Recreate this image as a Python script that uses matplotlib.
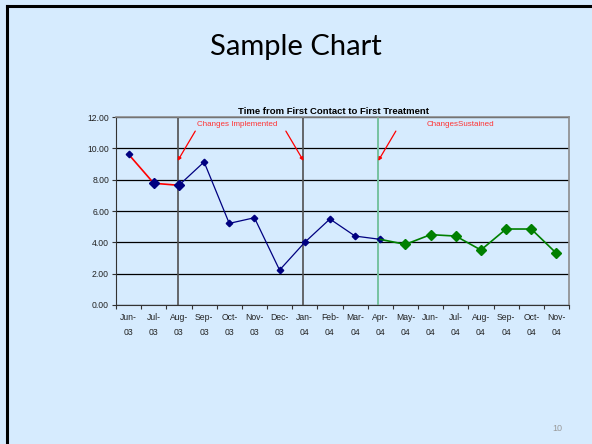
import matplotlib
matplotlib.use("Agg")
import matplotlib.pyplot as plt
import numpy as np

months = ["Jun-\n03", "Jul-\n03", "Aug-\n03", "Sep-\n03", "Oct-\n03", "Nov-\n03", "Dec-\n03",
          "Jan-\n04", "Feb-\n04", "Mar-\n04", "Apr-\n04", "May-\n04", "Jun-\n04", "Jul-\n04",
          "Aug-\n04", "Sep-\n04", "Oct-\n04", "Nov-\n04"]
values = [9.62, 7.77, 7.64, 9.13, 5.21, 5.57, 2.23, 4.00, 5.49, 4.40, 4.19,
          3.87, 4.49, 4.40, 3.51, 4.85, 4.85, 3.30]
baseline_idx = [0, 1, 2]
change_idx = [2, 3, 4, 5, 6, 7, 8, 9, 10]
sustain_idx = [10, 11, 12, 13, 14, 15, 16, 17]
yticks = [0, 2, 4, 6, 8, 10, 12]
ytick_labels = ["0.00", "2.00", "4.00", "6.00", "8.00", "10.00", "12.00"]
impl_months = [2, 7]
sustain_month = 10

bg = "#D6EBFE"
txt = "#222222"
fig = plt.figure(figsize=(5.92, 4.44), dpi=100)
fig.patch.set_facecolor(bg)

# slide border (left and top)
fig.add_artist(plt.Line2D([7/592, 7/592], [0, 1 - 6/444], color="black", lw=2.2, transform=fig.transFigure))
fig.add_artist(plt.Line2D([7/592, 1], [1 - 6/444, 1 - 6/444], color="black", lw=2.2, transform=fig.transFigure))

fig.text(296/592, 1 - 47/444, "Sample Chart", ha="center", va="center",
         fontsize=21, family="Lato", color="black")
fig.text(557/592, 1 - 428/444, "10", ha="center", va="center",
         fontsize=6.5, family="Liberation Sans", color="#9a9a9a")

ax = fig.add_axes([116/592, 1 - 305/444, (569 - 116)/592, (305 - 117)/444])
ax.set_facecolor(bg)
x = np.arange(len(values))
v = np.array(values)

ax.set_xlim(-0.5, len(values) - 0.5)
ax.set_ylim(0, 12)
ax.set_yticks(yticks)
ax.set_yticklabels(ytick_labels, family="Liberation Sans", fontsize=6.2, color=txt)
ax.yaxis.grid(True, color="black", lw=0.9)
ax.set_axisbelow(True)

ax.set_xticks(x)
ax.set_xticklabels(months, family="Liberation Sans", fontsize=6.2, linespacing=1.75, color=txt)
ax.set_xticks(np.arange(-0.5, len(values)), minor=True)
ax.tick_params(axis="x", which="major", length=0, pad=6)
ax.tick_params(axis="x", which="minor", length=3, width=0.8, color="#333333", direction="out")
ax.tick_params(axis="y", length=3, width=0.8, color="#333333", pad=2)

for s in ["top", "right"]:
    ax.spines[s].set_color("#8c8c8c")
    ax.spines[s].set_linewidth(1.2)
ax.spines["left"].set_color("#333333")
ax.spines["bottom"].set_color("#333333")

for m in impl_months:
    ax.axvline(m - 0.05, color="#505050", lw=1.2, zorder=1)
ax.axvline(sustain_month - 0.08, color="#77C2A0", lw=1.4, zorder=1)

bi = np.array(baseline_idx)
ax.plot(x[bi], v[bi], color="red", lw=1.2, zorder=3)
ax.plot(x[bi[:1]], v[bi[:1]], marker="D", ms=3.3, color="#000080", ls="none", zorder=4)
ax.plot(x[bi[1:]], v[bi[1:]], marker="D", ms=5.5, color="#000080", ls="none", zorder=4)

ci = np.array(change_idx)
ax.plot(x[ci], v[ci], color="#000080", lw=0.9, marker="D", ms=3.3, zorder=3)

si = np.array(sustain_idx)
ax.plot(x[si], v[si], color="#008000", lw=1.2, zorder=3)
ax.plot(x[si[1:]], v[si[1:]], marker="D", ms=5.5, color="#008000", ls="none", zorder=4)

ax.set_title("Time from First Contact to First Treatment", family="Liberation Sans",
             fontsize=6.8, fontweight="bold", pad=2.5, x=0.48)

ax.text(4.3, 11.55, "Changes Implemented", color="#FF3333", fontsize=5.8,
        family="Liberation Sans", ha="center", va="center")
for m, dx in zip(impl_months, [0.7, -0.7]):
    ax.annotate("", xy=(m - 0.05, 9.2), xytext=(m - 0.05 + dx, 11.1),
                arrowprops=dict(arrowstyle="-|>", color="red", lw=0.9,
                                mutation_scale=5, shrinkA=0, shrinkB=0))
ax.text(13.2, 11.55, "ChangesSustained", color="#FF3333", fontsize=5.8,
        family="Liberation Sans", ha="center", va="center")
ax.annotate("", xy=(sustain_month - 0.08, 9.2), xytext=(sustain_month - 0.08 + 0.7, 11.1),
            arrowprops=dict(arrowstyle="-|>", color="red", lw=0.9,
                            mutation_scale=5, shrinkA=0, shrinkB=0))

fig.savefig("out.png", dpi=100, facecolor=bg)
